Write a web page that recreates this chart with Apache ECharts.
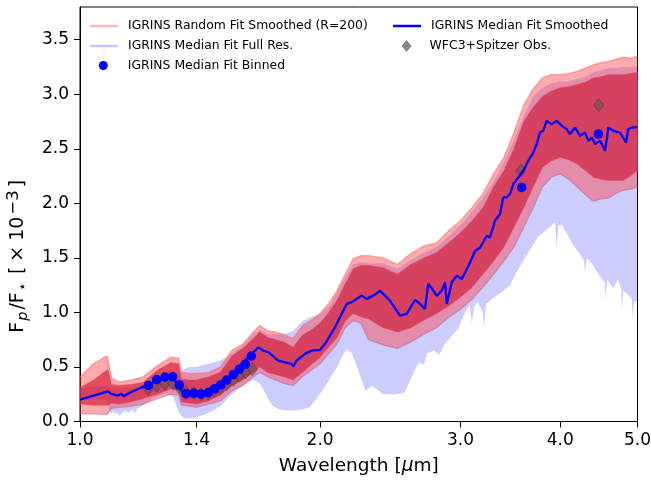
<!DOCTYPE html>
<html><head><meta charset="utf-8">
<script src="https://cdn.jsdelivr.net/npm/echarts@6/dist/echarts.min.js"></script>
<style>html,body{margin:0;padding:0;background:#fff}#c{width:651px;height:481px}</style>
</head><body><div id="c"></div>
<script>
// ---- data (wavelength in micron, Fp/F* in 1e-3) ----
const gridW        = [1.00,1.04,1.08,1.085,1.095,1.12,1.16,1.20,1.25,1.30,1.33,1.34,1.37,1.40,1.45,1.50,1.55,1.60,1.65,1.68,1.72,1.76,1.80,1.85,1.90,1.95,2.00,2.05,2.10,2.15,2.20,2.25,2.30,2.40,2.50,2.60,2.70,2.80,2.90,3.00,3.10,3.20,3.30,3.40,3.50,3.60,3.70,3.80,3.90,4.00,4.10,4.20,4.30,4.40,4.50,4.60,4.70,4.80,4.90,5.00];
const fitOuterTop  = [0.41,0.53,0.60,0.60,0.40,0.36,0.38,0.41,0.51,0.59,0.58,0.45,0.44,0.44,0.45,0.50,0.65,0.71,0.82,0.88,0.83,0.82,0.80,0.76,0.88,0.93,0.99,1.08,1.20,1.35,1.49,1.52,1.52,1.50,1.44,1.54,1.61,1.64,1.75,1.84,1.96,2.09,2.27,2.42,2.65,2.90,3.05,3.15,3.18,3.18,3.19,3.21,3.24,3.27,3.29,3.30,3.32,3.34,3.33,3.35];
const fitDenseTop  = [0.31,0.38,0.47,0.47,0.34,0.33,0.34,0.36,0.47,0.54,0.53,0.39,0.38,0.38,0.41,0.45,0.60,0.67,0.76,0.82,0.77,0.75,0.73,0.68,0.79,0.84,0.90,1.00,1.11,1.26,1.40,1.43,1.43,1.41,1.35,1.44,1.50,1.55,1.64,1.73,1.84,1.96,2.15,2.30,2.50,2.75,2.88,2.98,3.03,3.06,3.07,3.09,3.11,3.15,3.16,3.18,3.18,3.18,3.19,3.20];
const fitDenseBot  = [0.16,0.15,0.15,0.15,0.17,0.16,0.18,0.21,0.25,0.30,0.28,0.18,0.17,0.16,0.19,0.24,0.33,0.38,0.45,0.50,0.45,0.43,0.41,0.38,0.45,0.52,0.59,0.68,0.77,0.92,0.99,0.96,0.94,0.86,0.82,0.86,0.93,0.99,1.06,1.14,1.23,1.35,1.47,1.60,1.78,1.96,2.15,2.33,2.39,2.42,2.40,2.36,2.30,2.24,2.22,2.21,2.21,2.21,2.25,2.30];
const fitOuterBot  = [0.07,0.07,0.065,0.065,0.12,0.13,0.14,0.16,0.21,0.25,0.24,0.15,0.14,0.13,0.16,0.19,0.28,0.33,0.41,0.45,0.41,0.38,0.35,0.33,0.41,0.47,0.53,0.62,0.71,0.86,0.925,0.90,0.75,0.70,0.67,0.73,0.80,0.86,0.955,1.03,1.12,1.23,1.35,1.47,1.60,1.78,1.96,2.15,2.24,2.27,2.22,2.15,2.08,2.02,2.04,2.05,2.09,2.12,2.13,2.15];
const fullResTop   = [0.30,0.32,0.33,0.33,0.30,0.30,0.31,0.33,0.40,0.47,0.45,0.47,0.50,0.50,0.53,0.56,0.62,0.70,0.80,0.84,0.80,0.80,0.80,0.83,0.92,0.96,0.98,1.05,1.18,1.32,1.44,1.46,1.45,1.45,1.40,1.48,1.55,1.60,1.70,1.80,1.92,2.05,2.20,2.38,2.58,2.80,2.98,3.06,3.10,3.12,3.12,3.14,3.16,3.20,3.22,3.24,3.24,3.25,3.25,3.26];
const fullResBotW  = [1.00,1.08,1.088,1.095,1.10,1.105,1.11,1.12,1.13,1.14,1.15,1.165,1.17,1.18,1.19,1.21,1.24,1.28,1.31,1.33,1.35,1.38,1.40,1.43,1.46,1.50,1.54,1.58,1.62,1.65,1.68,1.71,1.74,1.78,1.82,1.86,1.90,1.94,1.98,2.02,2.06,2.10,2.14,2.16,2.19,2.22,2.26,2.28,2.32,2.36,2.40,2.48,2.55,2.58,2.62,2.66,2.70,2.72,2.78,2.82,2.86,2.92,2.98,3.03,3.08,3.10,3.12,3.15,3.20,3.21,3.23,3.28,3.34,3.40,3.46,3.52,3.58,3.64,3.70,3.76,3.82,3.88,3.94,3.96,3.98,4.02,4.08,4.15,4.22,4.28,4.30,4.32,4.38,4.45,4.52,4.55,4.56,4.58,4.66,4.72,4.77,4.78,4.80,4.88,4.92,4.93,4.95,5.00];
const fullResBot   = [0.20,0.20,0.10,0.07,0.10,0.06,0.09,0.05,0.08,0.10,0.08,0.11,0.07,0.12,0.13,0.17,0.22,0.26,0.22,0.08,0.03,0.03,0.04,0.06,0.09,0.14,0.23,0.30,0.36,0.38,0.35,0.25,0.15,0.11,0.10,0.10,0.11,0.13,0.21,0.30,0.40,0.50,0.62,0.66,0.63,0.52,0.36,0.28,0.33,0.29,0.25,0.25,0.26,0.34,0.45,0.54,0.52,0.62,0.65,0.61,0.70,0.78,0.85,0.98,1.07,0.90,1.05,1.10,1.00,0.85,1.08,1.12,1.16,1.20,1.25,1.36,1.45,1.54,1.62,1.70,1.74,1.78,1.83,1.60,1.80,1.80,1.72,1.62,1.55,1.48,1.38,1.50,1.45,1.37,1.30,1.28,1.12,1.30,1.22,1.30,1.22,1.02,1.20,1.15,1.12,0.93,1.10,1.10];
const medianW      = [1.00,1.084,1.094,1.116,1.127,1.134,1.158,1.205,1.235,1.302,1.314,1.327,1.353,1.393,1.433,1.489,1.533,1.564,1.610,1.674,1.697,1.722,1.773,1.807,1.843,1.851,1.869,1.915,1.952,2.000,2.029,2.088,2.149,2.160,2.191,2.255,2.288,2.344,2.377,2.447,2.519,2.568,2.630,2.669,2.707,2.733,2.773,2.801,2.842,2.869,2.883,2.925,2.968,3.011,3.055,3.084,3.129,3.175,3.236,3.266,3.314,3.362,3.394,3.428,3.460,3.494,3.544,3.596,3.648,3.701,3.738,3.773,3.809,3.847,3.903,3.960,4.018,4.076,4.115,4.175,4.236,4.298,4.339,4.382,4.424,4.488,4.553,4.597,4.663,4.754,4.837,4.868,4.917,5.000];
const medianV      = [0.200,0.277,0.254,0.238,0.254,0.232,0.268,0.323,0.360,0.415,0.391,0.314,0.254,0.259,0.268,0.314,0.391,0.467,0.559,0.680,0.650,0.635,0.559,0.543,0.528,0.504,0.559,0.620,0.650,0.657,0.712,0.864,1.047,1.078,1.093,1.154,1.124,1.163,1.200,1.108,0.971,0.986,1.114,1.078,1.032,1.261,1.200,1.154,1.200,1.276,1.078,1.276,1.337,1.307,1.398,1.459,1.566,1.596,1.703,1.688,1.841,1.902,2.054,2.054,2.085,2.177,2.237,2.299,2.390,2.466,2.543,2.649,2.665,2.756,2.726,2.756,2.711,2.680,2.635,2.695,2.619,2.649,2.573,2.604,2.543,2.573,2.482,2.695,2.665,2.649,2.558,2.680,2.695,2.700];
const binnedW      = [1.218,1.248,1.278,1.307,1.332,1.358,1.389,1.418,1.448,1.474,1.501,1.527,1.557,1.584,1.612,1.640,3.579,4.466];
const binnedV      = [0.330,0.385,0.408,0.410,0.335,0.255,0.258,0.250,0.265,0.300,0.335,0.380,0.430,0.480,0.525,0.600,2.146,2.635];
const obsW         = [1.218,1.248,1.278,1.307,1.332,1.358,1.389,1.418,1.448,1.474,1.501,1.527,1.557,1.584,1.612,1.645,3.570,4.470];
const obsV         = [0.300,0.330,0.345,0.350,0.310,0.270,0.260,0.250,0.255,0.280,0.310,0.340,0.380,0.420,0.450,0.480,2.300,2.900];
const xTicks       = [1.0,1.4,2.0,3.0,4.0,5.0];
const yTicks       = [0.0,0.5,1.0,1.5,2.0,2.5,3.0,3.5];

const NAME_FIT = 'IGRINS Random Fit Smoothed (R=200)';
const NAME_FULL = 'IGRINS Median Fit Full Res.';
const NAME_BIN = 'IGRINS Median Fit Binned';
const NAME_SMOOTH = 'IGRINS Median Fit Smoothed';
const NAME_OBS = 'WFC3+Spitzer Obs.';

const zip = (a, b) => a.map((v, i) => [v, b[i]]);
const FONT = 'DejaVu Sans';

function band(name, wTop, top, wBot, bot, fill, stroke, z) {
  return {
    type: 'custom', name: name, z: z, silent: true,
    data: [[wTop[0], top[0]]],
    encode: { x: 0, y: 1 },
    renderItem: function (params, api) {
      const pts = [];
      for (let i = 0; i < wTop.length; i++) pts.push(api.coord([wTop[i], top[i]]));
      for (let i = wBot.length - 1; i >= 0; i--) pts.push(api.coord([wBot[i], bot[i]]));
      return { type: 'polygon', shape: { points: pts }, style: { fill: fill, stroke: stroke, lineWidth: stroke ? 1 : 0 } };
    }
  };
}

function legendItem(left, top, name, icon, w, h, color, pad) {
  return {
    left: left, top: top, padding: 0, itemGap: 0, selectedMode: false,
    itemWidth: w, itemHeight: h, icon: icon,
    data: [{ name: name, icon: icon, itemStyle: { color: color, borderWidth: 0 } }],
    textStyle: { fontFamily: FONT, fontSize: 12.4, color: '#000', lineHeight: 14, padding: [0, 0, 0, pad] }
  };
}

const chart = echarts.init(document.getElementById('c'), null, { renderer: 'canvas' });
chart.setOption({
  animation: false,
  backgroundColor: '#fff',
  grid: { left: 80, right: 13.5, top: 7, bottom: 59.5, containLabel: false, outerBoundsMode: 'none',
          show: true, borderColor: '#000', borderWidth: 1, backgroundColor: 'transparent' },
  xAxis: {
    type: 'log', logBase: 10, min: 1, max: 5,
    axisLine: { show: true, lineStyle: { color: '#000', width: 1 } },
    axisTick: { show: true, inside: false, length: 6, lineStyle: { color: '#000', width: 1 }, customValues: xTicks },
    axisLabel: { customValues: xTicks, formatter: v => Number(v).toFixed(1), margin: 11, fontSize: 17, fontFamily: FONT, color: '#000' },
    splitLine: { show: false }, minorTick: { show: false },
    name: '{a|Wavelength [}{m|μ}{a|m]}', nameLocation: 'middle', nameGap: 35,
    nameTextStyle: { rich: { a: { fontFamily: FONT, fontSize: 18.5, color: '#000' }, m: { fontFamily: FONT, fontSize: 18.5, fontStyle: 'italic', color: '#000' } } }
  },
  yAxis: {
    type: 'value', min: 0, max: 3.8,
    axisLine: { show: true, lineStyle: { color: '#000', width: 1 } },
    axisTick: { show: true, inside: false, length: 6, lineStyle: { color: '#000', width: 1 }, customValues: yTicks },
    axisLabel: { customValues: yTicks, formatter: v => Number(v).toFixed(1), margin: 11, fontSize: 17, fontFamily: FONT, color: '#000' },
    splitLine: { show: false },
    name: '{a|F}{p|p}{a|/F}{s|⋆}{a| [}{x|×}{a|10}{u|−3}{a|]}', nameLocation: 'middle', nameRotate: 90, nameGap: 46,
    nameTextStyle: {
      padding: [0, 84, 0, 0],
      rich: {
        a: { fontFamily: FONT, fontSize: 19, color: '#000', lineHeight: 26 },
        x: { fontFamily: FONT, fontSize: 19, color: '#000', lineHeight: 26, padding: [0, 5, 0, 5] },
        p: { fontFamily: FONT, fontSize: 14.5, fontStyle: 'italic', color: '#000', lineHeight: 15, verticalAlign: 'bottom', padding: [0, 2, 0, 1] },
        s: { fontFamily: FONT, fontSize: 14.5, color: '#000', lineHeight: 15, verticalAlign: 'bottom', padding: [0, 2, 0, 1] },
        u: { fontFamily: FONT, fontSize: 16.5, color: '#000', lineHeight: 16, verticalAlign: 'top', padding: [0, 3, 0, 2] }
      }
    }
  },
  legend: [
    legendItem(90, 19, NAME_FIT, 'rect', 28, 2.5, '#ffb8b8', 5),
    legendItem(90, 39, NAME_FULL, 'rect', 28, 2.5, '#c4c4ff', 5),
    legendItem(98.8, 58.5, NAME_BIN, 'circle', 9, 9, '#0000ff', 15),
    legendItem(393, 19, NAME_SMOOTH, 'rect', 28, 2.5, '#0000ff', 5),
    legendItem(401.6, 39, NAME_OBS, 'diamond', 10, 12, '#6a6a6a', 13)
  ],
  series: [
    band(NAME_FULL, gridW, fullResTop, fullResBotW, fullResBot, 'rgba(0,0,255,0.2)', null, 1),
    band(NAME_FIT, gridW, fitOuterTop, gridW, fitOuterBot, 'rgba(255,55,55,0.42)', null, 2),
    band(NAME_FIT, gridW, fitDenseTop, gridW, fitDenseBot, 'rgba(205,15,45,0.6)', 'rgba(235,70,90,0.55)', 3),
    { type: 'line', name: NAME_FIT, data: zip(gridW, fitOuterTop), symbol: 'none', silent: true, z: 4,
      lineStyle: { color: 'rgba(255,110,110,0.6)', width: 1.3 } },
    { type: 'line', name: NAME_FIT, data: zip(gridW, fitOuterBot), symbol: 'none', silent: true, z: 4,
      lineStyle: { color: 'rgba(190,110,160,0.6)', width: 1.3 } },
    { type: 'scatter', name: NAME_OBS, data: zip(obsW, obsV), symbol: 'diamond', symbolSize: [10, 13], z: 5, silent: true,
      itemStyle: { color: 'rgba(85,85,85,0.7)', borderColor: 'rgba(40,40,40,0.7)', borderWidth: 0.6 } },
    { type: 'line', name: NAME_SMOOTH, data: zip(medianW, medianV), symbol: 'none', silent: true, z: 6,
      lineStyle: { color: '#0000ff', width: 2.3 } },
    { type: 'scatter', name: NAME_BIN, data: zip(binnedW, binnedV), symbol: 'circle', symbolSize: 9.5, z: 7, silent: true,
      itemStyle: { color: '#0000ff', opacity: 1 } }
  ]
});
</script>
</body></html>
